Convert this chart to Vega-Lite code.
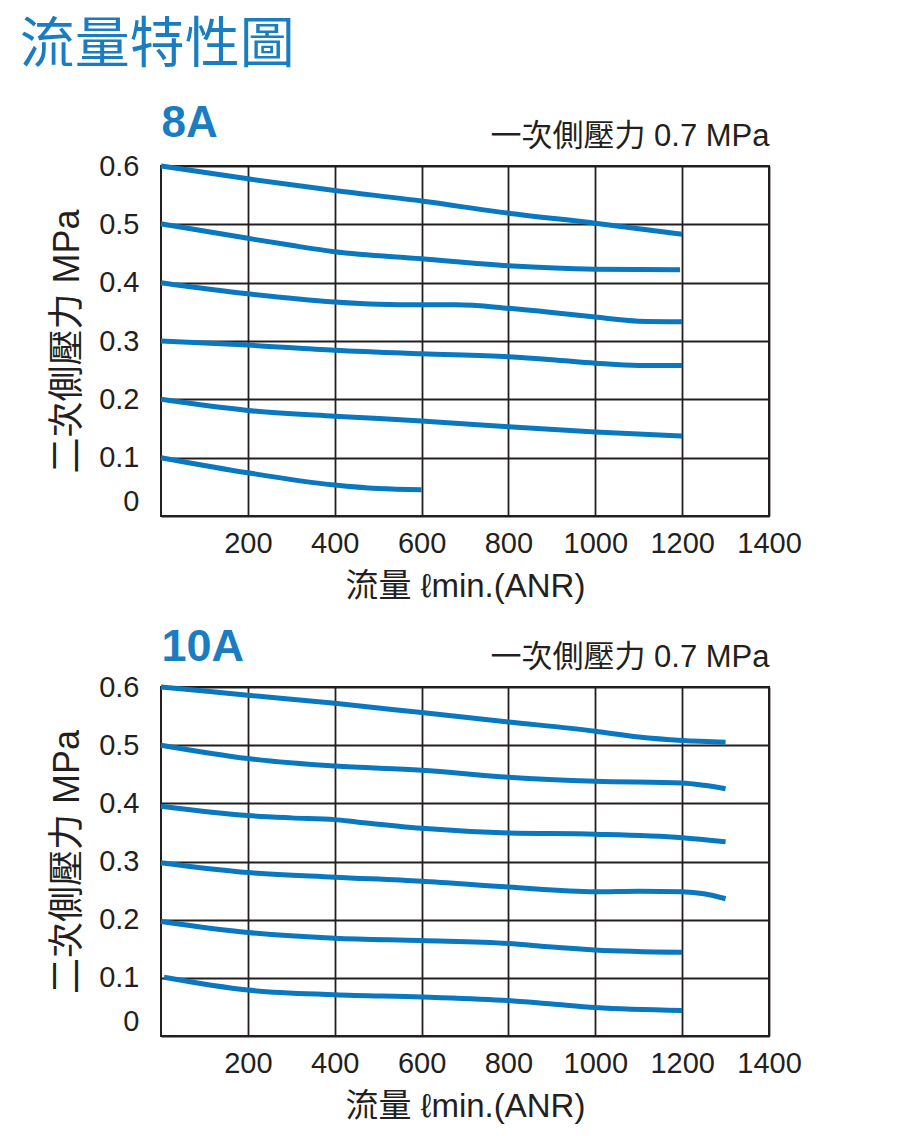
{
  "$schema": "https://vega.github.io/schema/vega-lite/v6.json",
  "background": "white",
  "padding": {"left": 19, "top": 18, "right": 10, "bottom": 5},
  "autosize": {"type": "pad"},
  "title": {"text": "流量特性圖", "anchor": "start", "font": "Noto Sans CJK TC", "fontSize": 55, "fontWeight": "normal", "color": "#1a7cc1", "dx": -29, "offset": 26},
  "spacing": 19,
  "datasets": {
    "a8": [
      {"curve": "0.6", "flow": 0, "p": 0.600}, {"curve": "0.6", "flow": 200, "p": 0.578}, {"curve": "0.6", "flow": 400, "p": 0.558}, {"curve": "0.6", "flow": 600, "p": 0.540}, {"curve": "0.6", "flow": 800, "p": 0.519}, {"curve": "0.6", "flow": 1000, "p": 0.502}, {"curve": "0.6", "flow": 1200, "p": 0.483},
      {"curve": "0.5", "flow": 0, "p": 0.501}, {"curve": "0.5", "flow": 200, "p": 0.476}, {"curve": "0.5", "flow": 300, "p": 0.464}, {"curve": "0.5", "flow": 400, "p": 0.453}, {"curve": "0.5", "flow": 600, "p": 0.441}, {"curve": "0.5", "flow": 800, "p": 0.429}, {"curve": "0.5", "flow": 1000, "p": 0.423}, {"curve": "0.5", "flow": 1195, "p": 0.422},
      {"curve": "0.4", "flow": 0, "p": 0.400}, {"curve": "0.4", "flow": 200, "p": 0.381}, {"curve": "0.4", "flow": 400, "p": 0.367}, {"curve": "0.4", "flow": 500, "p": 0.363}, {"curve": "0.4", "flow": 600, "p": 0.362}, {"curve": "0.4", "flow": 680, "p": 0.362}, {"curve": "0.4", "flow": 800, "p": 0.356}, {"curve": "0.4", "flow": 900, "p": 0.349}, {"curve": "0.4", "flow": 1000, "p": 0.341}, {"curve": "0.4", "flow": 1100, "p": 0.334}, {"curve": "0.4", "flow": 1200, "p": 0.333},
      {"curve": "0.3", "flow": 0, "p": 0.300}, {"curve": "0.3", "flow": 200, "p": 0.293}, {"curve": "0.3", "flow": 400, "p": 0.284}, {"curve": "0.3", "flow": 600, "p": 0.278}, {"curve": "0.3", "flow": 800, "p": 0.273}, {"curve": "0.3", "flow": 900, "p": 0.268}, {"curve": "0.3", "flow": 1000, "p": 0.262}, {"curve": "0.3", "flow": 1100, "p": 0.258}, {"curve": "0.3", "flow": 1200, "p": 0.258},
      {"curve": "0.2", "flow": 0, "p": 0.200}, {"curve": "0.2", "flow": 200, "p": 0.181}, {"curve": "0.2", "flow": 400, "p": 0.171}, {"curve": "0.2", "flow": 600, "p": 0.163}, {"curve": "0.2", "flow": 800, "p": 0.153}, {"curve": "0.2", "flow": 1000, "p": 0.144}, {"curve": "0.2", "flow": 1200, "p": 0.137},
      {"curve": "0.1", "flow": 0, "p": 0.100}, {"curve": "0.1", "flow": 200, "p": 0.074}, {"curve": "0.1", "flow": 400, "p": 0.053}, {"curve": "0.1", "flow": 500, "p": 0.047}, {"curve": "0.1", "flow": 600, "p": 0.045}
    ],
    "a10": [
      {"curve": "0.6", "flow": 0, "p": 0.600}, {"curve": "0.6", "flow": 200, "p": 0.586}, {"curve": "0.6", "flow": 400, "p": 0.572}, {"curve": "0.6", "flow": 600, "p": 0.556}, {"curve": "0.6", "flow": 800, "p": 0.540}, {"curve": "0.6", "flow": 1000, "p": 0.524}, {"curve": "0.6", "flow": 1100, "p": 0.514}, {"curve": "0.6", "flow": 1200, "p": 0.508}, {"curve": "0.6", "flow": 1300, "p": 0.505},
      {"curve": "0.5", "flow": 0, "p": 0.500}, {"curve": "0.5", "flow": 200, "p": 0.477}, {"curve": "0.5", "flow": 400, "p": 0.464}, {"curve": "0.5", "flow": 600, "p": 0.457}, {"curve": "0.5", "flow": 800, "p": 0.445}, {"curve": "0.5", "flow": 1000, "p": 0.438}, {"curve": "0.5", "flow": 1200, "p": 0.435}, {"curve": "0.5", "flow": 1250, "p": 0.431}, {"curve": "0.5", "flow": 1300, "p": 0.425},
      {"curve": "0.4", "flow": 0, "p": 0.395}, {"curve": "0.4", "flow": 200, "p": 0.379}, {"curve": "0.4", "flow": 300, "p": 0.375}, {"curve": "0.4", "flow": 400, "p": 0.372}, {"curve": "0.4", "flow": 450, "p": 0.368}, {"curve": "0.4", "flow": 600, "p": 0.357}, {"curve": "0.4", "flow": 800, "p": 0.349}, {"curve": "0.4", "flow": 1000, "p": 0.347}, {"curve": "0.4", "flow": 1200, "p": 0.341}, {"curve": "0.4", "flow": 1300, "p": 0.334},
      {"curve": "0.3", "flow": 0, "p": 0.298}, {"curve": "0.3", "flow": 200, "p": 0.281}, {"curve": "0.3", "flow": 400, "p": 0.273}, {"curve": "0.3", "flow": 600, "p": 0.266}, {"curve": "0.3", "flow": 800, "p": 0.256}, {"curve": "0.3", "flow": 1000, "p": 0.248}, {"curve": "0.3", "flow": 1100, "p": 0.249}, {"curve": "0.3", "flow": 1200, "p": 0.248}, {"curve": "0.3", "flow": 1250, "p": 0.2445}, {"curve": "0.3", "flow": 1300, "p": 0.236},
      {"curve": "0.2", "flow": 0, "p": 0.197}, {"curve": "0.2", "flow": 200, "p": 0.178}, {"curve": "0.2", "flow": 400, "p": 0.168}, {"curve": "0.2", "flow": 600, "p": 0.164}, {"curve": "0.2", "flow": 800, "p": 0.159}, {"curve": "0.2", "flow": 900, "p": 0.153}, {"curve": "0.2", "flow": 1000, "p": 0.148}, {"curve": "0.2", "flow": 1200, "p": 0.144},
      {"curve": "0.1", "flow": 7, "p": 0.101}, {"curve": "0.1", "flow": 200, "p": 0.079}, {"curve": "0.1", "flow": 400, "p": 0.071}, {"curve": "0.1", "flow": 600, "p": 0.067}, {"curve": "0.1", "flow": 800, "p": 0.061}, {"curve": "0.1", "flow": 900, "p": 0.055}, {"curve": "0.1", "flow": 1000, "p": 0.049}, {"curve": "0.1", "flow": 1200, "p": 0.044}
    ]
  },
  "vconcat": [
    {
      "width": 608,
      "height": 350,
      "data": {"name": "a8"},
      "layer": [
        {
          "mark": {"type": "line", "interpolate": "monotone", "strokeWidth": 5, "color": "#0a78be", "strokeCap": "butt"},
          "encoding": {
            "x": {"field": "flow", "type": "quantitative", "scale": {"domain": [0, 1400], "nice": false, "zero": false},
              "axis": {"orient": "bottom", "values": [200, 400, 600, 800, 1000, 1200, 1400], "format": "d", "grid": true, "labelFlush": false, "labelFont": "Liberation Sans", "labelFontSize": 29, "labelPadding": 13, "title": "流量  ℓmin.(ANR)", "titleFont": "Liberation Sans, Noto Sans CJK TC", "titleFontSize": 33, "titlePadding": 12}},
            "y": {"field": "p", "type": "quantitative", "scale": {"domain": [0, 0.6], "nice": false},
              "axis": {"values": [0, 0.1, 0.2, 0.3, 0.4, 0.5, 0.6], "format": ".1~f", "grid": true, "labelFont": "Liberation Sans", "labelFontSize": 29, "labelPadding": 22, "labelBaseline": {"condition": {"test": "datum.value === 0", "value": "bottom"}, "value": "middle"}, "title": "二次側壓力 MPa", "titleFont": "Liberation Sans, Noto Sans CJK TC", "titleFontSize": 36, "titlePadding": 12}},
            "detail": {"field": "curve"}
          }
        },
        {
          "mark": {"type": "point", "opacity": 0},
          "encoding": {
            "x": {"field": "flow", "type": "quantitative", "axis": {"orient": "top", "labels": false, "grid": false, "title": "8A", "titleAnchor": "start", "titleFont": "Liberation Sans", "titleFontSize": 44, "titleFontWeight": "bold", "titleColor": "#1a7cc1", "titleBaseline": "alphabetic", "titlePadding": 30}},
            "y": {"field": "p", "type": "quantitative"}
          }
        },
        {
          "mark": {"type": "point", "opacity": 0},
          "encoding": {
            "x": {"field": "flow", "type": "quantitative", "axis": {"orient": "top", "labels": false, "grid": false, "title": "一次側壓力 0.7 MPa", "titleAnchor": "end", "titleFont": "Liberation Sans, Noto Sans CJK TC", "titleFontSize": 31, "titleBaseline": "alphabetic", "titlePadding": 21}},
            "y": {"field": "p", "type": "quantitative"}
          }
        }
      ],
      "resolve": {"axis": {"x": "independent"}}
    },
    {
      "width": 608,
      "height": 349,
      "data": {"name": "a10"},
      "layer": [
        {
          "mark": {"type": "line", "interpolate": "monotone", "strokeWidth": 5, "color": "#0a78be", "strokeCap": "butt"},
          "encoding": {
            "x": {"field": "flow", "type": "quantitative", "scale": {"domain": [0, 1400], "nice": false, "zero": false},
              "axis": {"orient": "bottom", "values": [200, 400, 600, 800, 1000, 1200, 1400], "format": "d", "grid": true, "labelFlush": false, "labelFont": "Liberation Sans", "labelFontSize": 29, "labelPadding": 13, "title": "流量  ℓmin.(ANR)", "titleFont": "Liberation Sans, Noto Sans CJK TC", "titleFontSize": 33, "titlePadding": 12}},
            "y": {"field": "p", "type": "quantitative", "scale": {"domain": [0, 0.6], "nice": false},
              "axis": {"values": [0, 0.1, 0.2, 0.3, 0.4, 0.5, 0.6], "format": ".1~f", "grid": true, "labelFont": "Liberation Sans", "labelFontSize": 29, "labelPadding": 22, "labelBaseline": {"condition": {"test": "datum.value === 0", "value": "bottom"}, "value": "middle"}, "title": "二次側壓力 MPa", "titleFont": "Liberation Sans, Noto Sans CJK TC", "titleFontSize": 36, "titlePadding": 12}},
            "detail": {"field": "curve"}
          }
        },
        {
          "mark": {"type": "point", "opacity": 0},
          "encoding": {
            "x": {"field": "flow", "type": "quantitative", "axis": {"orient": "top", "labels": false, "grid": false, "title": "10A", "titleAnchor": "start", "titleFont": "Liberation Sans", "titleFontSize": 45, "titleFontWeight": "bold", "titleColor": "#1a7cc1", "titleBaseline": "alphabetic", "titlePadding": 27}},
            "y": {"field": "p", "type": "quantitative"}
          }
        },
        {
          "mark": {"type": "point", "opacity": 0},
          "encoding": {
            "x": {"field": "flow", "type": "quantitative", "axis": {"orient": "top", "labels": false, "grid": false, "title": "一次側壓力 0.7 MPa", "titleAnchor": "end", "titleFont": "Liberation Sans, Noto Sans CJK TC", "titleFontSize": 31, "titleBaseline": "alphabetic", "titlePadding": 21}},
            "y": {"field": "p", "type": "quantitative"}
          }
        }
      ],
      "resolve": {"axis": {"x": "independent"}}
    }
  ],
  "config": {
    "font": "Liberation Sans",
    "view": {"stroke": "#231f20", "strokeWidth": 2},
    "axis": {"gridColor": "#231f20", "gridOpacity": 1, "gridWidth": 1.8, "labelColor": "#231f20", "titleColor": "#231f20", "ticks": false, "domain": false, "titleFontWeight": "normal"}
  }
}
